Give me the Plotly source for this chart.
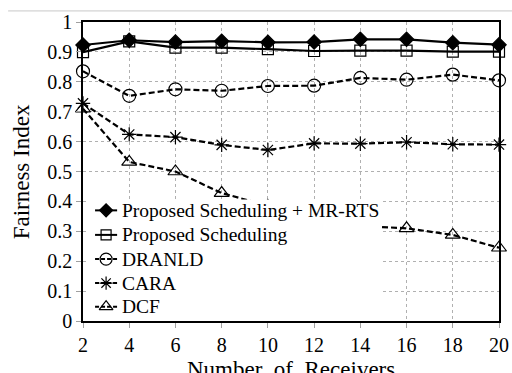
import plotly.graph_objects as go

receivers = [2, 4, 6, 8, 10, 12, 14, 16, 18, 20]

sched_mrrts = [0.923, 0.939, 0.933, 0.936, 0.932, 0.933, 0.942, 0.942, 0.931, 0.924]
sched = [0.899, 0.935, 0.914, 0.914, 0.909, 0.903, 0.904, 0.904, 0.901, 0.901]
dranld = [0.835, 0.753, 0.775, 0.770, 0.786, 0.787, 0.813, 0.807, 0.824, 0.805]
cara = [0.728, 0.624, 0.615, 0.589, 0.572, 0.594, 0.593, 0.598, 0.591, 0.590]
dcf = [0.710, 0.532, 0.500, 0.428, 0.385, 0.355, 0.318, 0.310, 0.288, 0.245]

names = ["Proposed Scheduling + MR-RTS", "Proposed Scheduling", "DRANLD", "CARA", "DCF"]
values = [sched_mrrts, sched, dranld, cara, dcf]
symbols = ["diamond", "square-open", "circle-open", "asterisk-open", "triangle-up-open"]
dashes = ["solid", "solid", "6px,3px", "6px,3px", "6px,3px"]
sizes = [11, 11, 13, 12, 13]

font_family = "Liberation Serif, Times New Roman, serif"

# key box geometry, in fractions of the plotting area
key_box = dict(x0=0.012, x1=0.714, y0=0.0, y1=0.406)
key_rows = [0.370, 0.288, 0.207, 0.127, 0.048]
key_line = (0.029, 0.082)
key_text_x = 0.088

fig = go.Figure()
for name, vals, sym, dash, size in zip(names, values, symbols, dashes, sizes):
    fig.add_trace(go.Scatter(
        x=receivers, y=vals, name=name, mode="lines+markers",
        line=dict(color="black", width=2.2, dash=dash),
        marker=dict(symbol=sym, size=size, color="black",
                    line=dict(color="black", width=1.2)),
        cliponaxis=False, showlegend=False,
    ))

# white key panel on an overlay subplot so it sits over the series
fig.add_trace(go.Scatter(
    x=[key_box["x0"], key_box["x1"], key_box["x1"], key_box["x0"], key_box["x0"]],
    y=[key_box["y0"], key_box["y0"], key_box["y1"], key_box["y1"], key_box["y0"]],
    fill="toself", fillcolor="white", mode="lines", line=dict(width=0, color="white"),
    xaxis="x2", yaxis="y2", showlegend=False, hoverinfo="skip",
))

annotations = []
for name, sym, dash, size, ry in zip(names, symbols, dashes, sizes, key_rows):
    fig.add_trace(go.Scatter(
        x=[key_line[0], key_line[1]], y=[ry, ry], mode="lines",
        line=dict(color="black", width=2.0, dash="solid" if dash == "solid" else "4px,2px"),
        xaxis="x2", yaxis="y2", showlegend=False, hoverinfo="skip",
    ))
    fig.add_trace(go.Scatter(
        x=[(key_line[0] + key_line[1]) / 2], y=[ry], mode="markers",
        marker=dict(symbol=sym, size=size - 1, color="black",
                    line=dict(color="black", width=1.2)),
        xaxis="x2", yaxis="y2", showlegend=False, hoverinfo="skip",
    ))
    annotations.append(dict(
        text=name, xref="x2", yref="y2", x=key_text_x, y=ry,
        xanchor="left", yanchor="middle", showarrow=False,
        font=dict(size=19.5, family=font_family),
    ))

annotations += [
    dict(text="Number  of  Receivers", xref="paper", yref="paper",
         x=0.5, y=-0.162, xanchor="center", yanchor="middle",
         showarrow=False, font=dict(size=23, family=font_family)),
    dict(text="Fairness Index", xref="paper", yref="paper",
         x=-0.147, y=0.5, xanchor="center", yanchor="middle",
         textangle=-90, showarrow=False, font=dict(size=23, family=font_family)),
]

axis_common = dict(
    showgrid=True, gridcolor="#b0b0b0", griddash="dot", gridwidth=1,
    showline=True, linecolor="black", linewidth=1.5, mirror=True,
    ticks="outside", ticklen=5, tickcolor="#a0a0a0",
    zeroline=False, automargin=False,
    tickfont=dict(family=font_family, size=20, color="black"),
)

fig.update_layout(
    width=512, height=373,
    margin=dict(l=83, r=13, t=22, b=52),
    paper_bgcolor="white", plot_bgcolor="white",
    font=dict(family=font_family, size=20, color="black"),
    showlegend=False,
    xaxis=dict(range=[2, 20], tickmode="linear", tick0=2, dtick=2, **axis_common),
    yaxis=dict(range=[0, 1], tickmode="linear", tick0=0, dtick=0.1, **axis_common),
    xaxis2=dict(overlaying="x", range=[0, 1], visible=False, fixedrange=True),
    yaxis2=dict(overlaying="y", range=[0, 1], visible=False, fixedrange=True),
    annotations=annotations,
    shapes=[dict(
        type="line", xref="paper", yref="paper",
        x0=-0.18, x1=1.04, y0=1.037, y1=1.037,
        line=dict(color="#c8c8c8", width=1),
    )],
)

fig.write_html("out.html")
